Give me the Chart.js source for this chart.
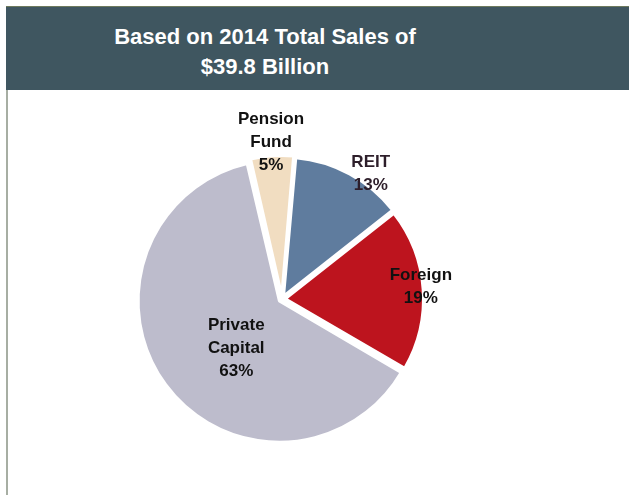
<!DOCTYPE html>
<html>
<head>
<meta charset="utf-8">
<script src="https://cdn.jsdelivr.net/npm/chart.js@4"></script>
<style>
  html, body { margin: 0; padding: 0; background: #ffffff; }
  body { width: 629px; height: 495px; position: relative; overflow: hidden; font-family: "Liberation Sans", Arial, sans-serif; }
  #header {
    position: absolute; left: 6px; top: 6px; width: 623px; height: 84px;
    background: #3F5660; border-top: 1px solid #6E7A5E; box-sizing: border-box;
  }
  #header div {
    position: absolute; left: 0; width: 518px; text-align: center;
    color: #ffffff; font-weight: bold; font-size: 22px; line-height: 28px;
  }
  #frame { position: absolute; left: 6px; top: 90px; width: 2px; height: 405px; background: #A7AEA3; }
  #wrap { position: absolute; left: 0; top: 0; width: 629px; height: 495px; }
</style>
</head>
<body>
<div id="header">
  <div style="top:16px">Based on 2014 Total Sales of</div>
  <div style="top:46px">$39.8 Billion</div>
</div>
<div id="frame"></div>
<div id="wrap"><canvas id="chart" width="629" height="495"></canvas></div>
<script>
// Share of 2014 sales by buyer type
const categories = ["REIT", "Foreign", "Private Capital", "Pension Fund"];
const shares = [13, 19, 63, 5];
const labelLines = [["REIT", "13%"], ["Foreign", "19%"], ["Private", "Capital", "63%"], ["Pension", "Fund", "5%"]];
const sliceColors = ["#5F7C9E", "#BD141E", "#BDBCCC", "#F1DDC1"];
const labelColors = ["#2D1E2A", "#111111", "#111111", "#111111"];

// Where each label sits: radius as a fraction of the pie radius, plus an angle nudge (degrees)
const labelPlacement = [
  { r: 1.11, nudge: 7 },
  { r: 1.01, nudge: -1 },
  { r: 0.49, nudge: -11 },
  { r: 1.138, nudge: 0 }
];

const sliceLabels = {
  id: "sliceLabels",
  afterDatasetsDraw(chart) {
    const ctx = chart.ctx;
    const arcs = chart.getDatasetMeta(0).data;
    ctx.save();
    ctx.font = "bold 17px 'Liberation Sans', Arial, sans-serif";
    ctx.textAlign = "center";
    ctx.textBaseline = "middle";
    const lh = 23;
    arcs.forEach((arc, i) => {
      const p = arc.getProps(["x", "y", "startAngle", "endAngle", "outerRadius"], true);
      const mid = (p.startAngle + p.endAngle) / 2 + labelPlacement[i].nudge * Math.PI / 180;
      const rr = p.outerRadius * labelPlacement[i].r;
      const cx = p.x + Math.cos(mid) * rr;
      const cy = p.y + Math.sin(mid) * rr;
      const lines = labelLines[i];
      const y0 = cy - (lines.length - 1) * lh / 2;
      ctx.fillStyle = labelColors[i];
      lines.forEach((t, k) => ctx.fillText(t, cx, y0 + k * lh));
    });
    ctx.restore();
  }
};

new Chart(document.getElementById("chart"), {
  type: "pie",
  data: {
    labels: categories,
    datasets: [{
      data: shares,
      backgroundColor: sliceColors,
      borderColor: "#ffffff",
      borderWidth: 3,
      offset: 13,
      hoverOffset: 0
    }]
  },
  options: {
    responsive: false,
    animation: false,
    rotation: 5,
    radius: 138,
    layout: { padding: { left: 132, right: 197, top: 149, bottom: 46 } },
    plugins: {
      legend: { display: false },
      tooltip: { enabled: false },
      title: { display: false }
    },
    events: []
  },
  plugins: [sliceLabels]
});
</script>
</body>
</html>
